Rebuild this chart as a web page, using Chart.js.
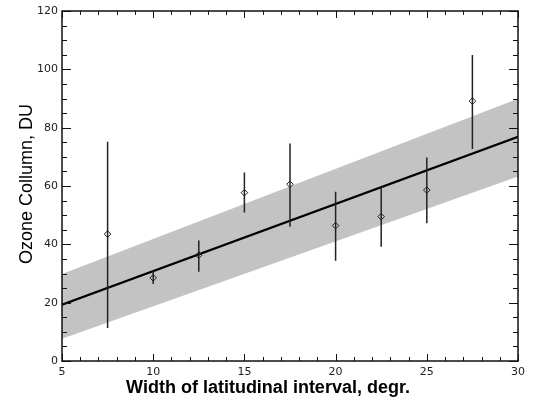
<!DOCTYPE html>
<html>
<head>
<meta charset="utf-8">
<script src="https://cdn.jsdelivr.net/npm/chart.js@4/dist/chart.umd.min.js"></script>
<style>
  html, body { margin: 0; padding: 0; background: #fff; }
  #wrap { width: 533px; height: 407px; }
</style>
</head>
<body>
<div id="wrap"><canvas id="ozoneChart" width="533" height="407"></canvas></div>
<script>
// --- data ---
const widthDeg = [7.5, 10, 12.5, 15, 17.5, 20, 22.5, 25, 27.5];
const ozoneDU  = [43.5, 28.5, 36.3, 57.7, 60.6, 46.4, 49.5, 58.6, 89.1];
const errLow   = [11.3, 26.4, 30.6, 50.9, 46.0, 34.4, 39.2, 47.2, 72.7];
const errHigh  = [75.2, 31.0, 41.3, 64.6, 74.6, 58.0, 59.5, 69.8, 104.9];

const fitX      = [5, 30];
const fitY      = [19.3, 76.9];
const bandUpper = [29.8, 89.9];
const bandLower = [7.6, 63.3];

const xTickLabels = [5, 10, 15, 20, 25, 30];
const yTickLabels = [0, 20, 40, 60, 80, 100, 120];

const xTitle = 'Width of latitudinal interval, degr.';
const yTitle = 'Ozone Collumn, DU';

// build point lists for the library
const toPts = (xs, ys) => xs.map((x, i) => ({ x: x, y: ys[i] }));
const errPts = [];
widthDeg.forEach((x, i) => {
    errPts.push({ x: x, y: errLow[i] }, { x: x, y: errHigh[i] }, { x: x, y: null });
});

// frame + inward ticks on all four sides, plus the axis titles
const framePlugin = {
    id: 'frame',
    afterDatasetsDraw(chart) {
        const { ctx, chartArea: a, scales: { x, y } } = chart;
        ctx.save();
        ctx.strokeStyle = '#111';
        ctx.lineWidth = 1;
        ctx.beginPath();
        for (let v = 5; v <= 30; v++) {
            const px = Math.round(x.getPixelForValue(v)) + 0.5;
            const len = v % 5 === 0 ? 7 : 4;
            ctx.moveTo(px, a.bottom); ctx.lineTo(px, a.bottom - len);
            ctx.moveTo(px, a.top); ctx.lineTo(px, a.top + len);
        }
        for (let v = 0; v <= 120; v += 5) {
            const py = Math.round(y.getPixelForValue(v)) + 0.5;
            const len = v % 20 === 0 ? 9 : 5;
            ctx.moveTo(a.left, py); ctx.lineTo(a.left + len, py);
            ctx.moveTo(a.right, py); ctx.lineTo(a.right - len, py);
        }
        ctx.stroke();
        ctx.lineWidth = 1.5;
        ctx.strokeRect(a.left, a.top, a.right - a.left, a.bottom - a.top);

        ctx.fillStyle = '#000';
        ctx.font = 'bold 18px "Liberation Sans", Arial, sans-serif';
        ctx.textAlign = 'center';
        ctx.textBaseline = 'alphabetic';
        ctx.fillText(xTitle, 268, 393);

        ctx.font = '18px "Liberation Sans", Arial, sans-serif';
        ctx.translate(32, 184);
        ctx.rotate(-Math.PI / 2);
        ctx.fillText(yTitle, 0, 0);
        ctx.restore();
    }
};

const tickFont = { family: '"DejaVu Sans", sans-serif', size: 11 };

new Chart(document.getElementById('ozoneChart'), {
    type: 'scatter',
    data: {
        datasets: [
            {
                label: 'diamonds',
                data: toPts(widthDeg, ozoneDU),
                showLine: false,
                pointStyle: 'rectRot',
                pointRadius: 3.3,
                borderColor: '#222',
                borderWidth: 1,
                backgroundColor: 'rgba(0,0,0,0)',
                order: 0
            },
            {
                label: 'errors',
                data: errPts,
                showLine: true,
                spanGaps: false,
                borderColor: '#222',
                borderWidth: 1.5,
                pointRadius: 0,
                fill: false,
                order: 1
            },
            {
                label: 'fit',
                data: toPts(fitX, fitY),
                showLine: true,
                borderColor: '#000',
                borderWidth: 2.2,
                pointRadius: 0,
                fill: false,
                order: 2
            },
            {
                label: 'upper',
                data: toPts(fitX, bandUpper),
                showLine: true,
                borderWidth: 0,
                borderColor: 'rgba(0,0,0,0)',
                pointRadius: 0,
                backgroundColor: '#c3c3c3',
                fill: '+1',
                order: 3
            },
            {
                label: 'lower',
                data: toPts(fitX, bandLower),
                showLine: true,
                borderWidth: 0,
                borderColor: 'rgba(0,0,0,0)',
                pointRadius: 0,
                fill: false,
                order: 4
            }
        ]
    },
    options: {
        responsive: false,
        animation: false,
        layout: { padding: { top: 11, right: 15, left: 0, bottom: 0 } },
        plugins: { legend: { display: false }, tooltip: { enabled: false } },
        scales: {
            x: {
                type: 'linear', min: 5, max: 30,
                grid: { display: false, drawTicks: false },
                border: { display: false },
                afterBuildTicks: s => { s.ticks = xTickLabels.map(v => ({ value: v })); },
                afterFit: s => { s.height = 46; },
                ticks: { padding: 5, color: '#222', font: tickFont, maxRotation: 0 }
            },
            y: {
                type: 'linear', min: 0, max: 120,
                grid: { display: false, drawTicks: false },
                border: { display: false },
                afterBuildTicks: s => { s.ticks = yTickLabels.map(v => ({ value: v })); },
                afterFit: s => { s.width = 62; },
                ticks: { padding: 4, color: '#222', font: tickFont }
            }
        }
    },
    plugins: [framePlugin]
});
</script>
</body>
</html>
